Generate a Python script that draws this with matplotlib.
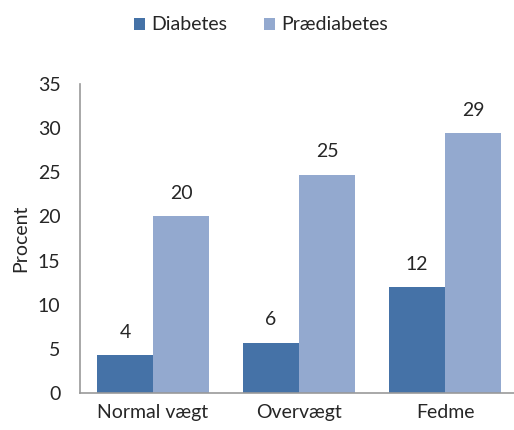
import numpy as np
import matplotlib.pyplot as plt

plt.rcParams['font.family'] = ['Lato', 'DejaVu Sans']

categories = ['Normal vægt', 'Overvægt', 'Fedme']
diabetes = [4.3, 5.7, 12.0]
prediabetes = [20.0, 24.7, 29.4]
diabetes_labels = ['4', '6', '12']
prediabetes_labels = ['20', '25', '29']

fs = 14
fig = plt.figure(figsize=(5.14, 4.30), dpi=100)
ax = fig.add_axes([80 / 514, 37 / 430, 434 / 514, 309 / 430])

x = np.arange(len(categories))
w = 0.384
b1 = ax.bar(x - w / 2, diabetes, w, color='#4572A7', label='Diabetes')
b2 = ax.bar(x + w / 2, prediabetes, w, color='#93A9CF', label='Prædiabetes')

# value labels above bars
for bars, labels in [(b1, diabetes_labels), (b2, prediabetes_labels)]:
    for rect, lab in zip(bars, labels):
        ax.annotate(lab, (rect.get_x() + rect.get_width() / 2, rect.get_height()),
                    xytext=(0, 23), textcoords='offset pixels',
                    ha='center', va='center', fontsize=fs, color='#262626')

ax.set_xlim(-0.5, -0.5 + 434 / 146)
ax.set_ylim(0, 35)
ax.set_yticks(range(0, 36, 5))
ax.set_xticks(x)
ax.set_xticklabels(categories, fontsize=fs, color='#262626')
ax.tick_params(axis='y', labelsize=fs, labelcolor='#262626', length=0, pad=14)
ax.tick_params(axis='x', length=0, pad=8)
ax.set_ylabel('Procent', fontsize=fs, color='#262626', labelpad=6)

for s in ['top', 'right']:
    ax.spines[s].set_visible(False)
ax.spines['left'].set_color('#999999')
ax.spines['bottom'].set_color('#999999')
ax.spines['left'].set_linewidth(1.2)
ax.spines['bottom'].set_linewidth(1.2)

leg = fig.legend(handles=[b1, b2], loc='center', bbox_to_anchor=(261 / 514, 1 - 25 / 430),
                 ncol=2, frameon=False, fontsize=fs, handlelength=0.57, handleheight=0.57,
                 handletextpad=0.35, columnspacing=1.85)
for t in leg.get_texts():
    t.set_color('#262626')

fig.savefig('out.png', dpi=100)
